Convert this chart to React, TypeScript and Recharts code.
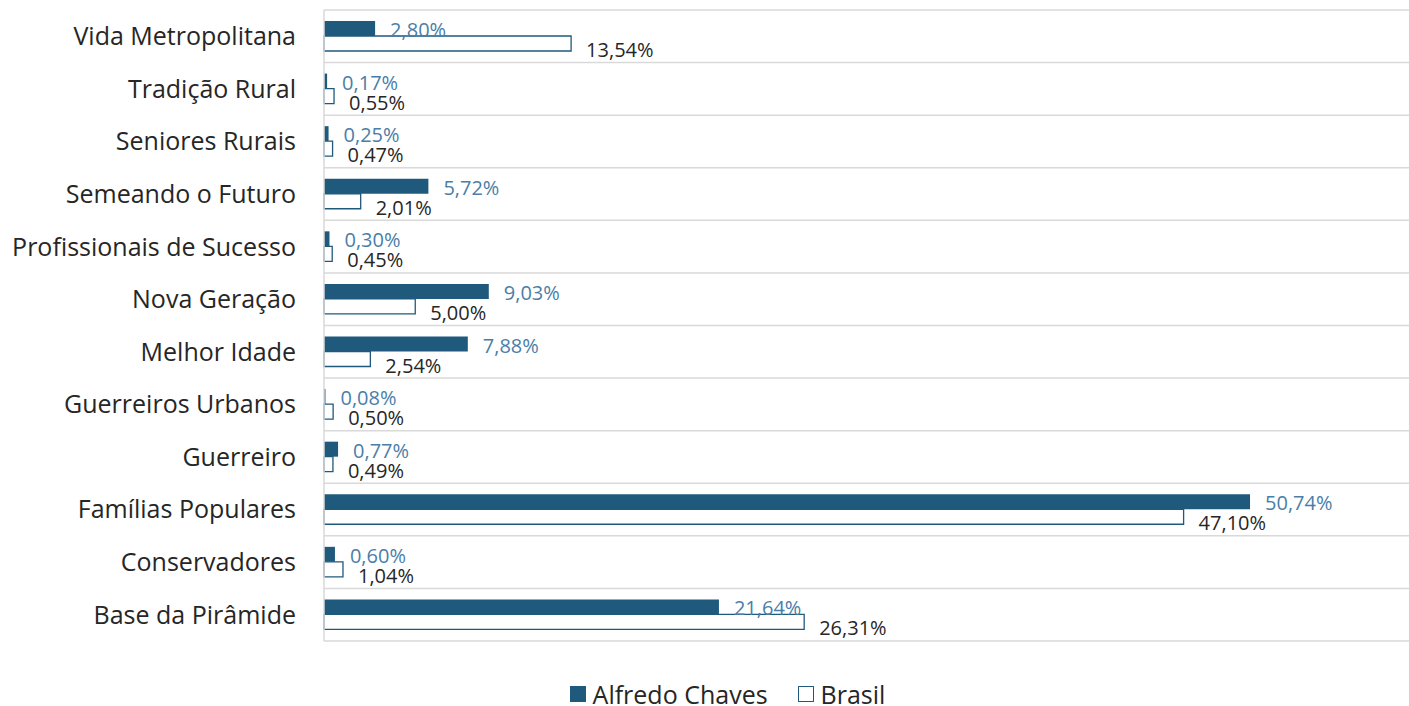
import React from "react";
import { BarChart, Bar, XAxis, YAxis, CartesianGrid, Legend, LabelList } from "recharts";

const categories = [
  "Vida Metropolitana",
  "Tradição Rural",
  "Seniores Rurais",
  "Semeando o Futuro",
  "Profissionais de Sucesso",
  "Nova Geração",
  "Melhor Idade",
  "Guerreiros Urbanos",
  "Guerreiro",
  "Famílias Populares",
  "Conservadores",
  "Base da Pirâmide",
];
const alfredoChaves = [2.8, 0.17, 0.25, 5.72, 0.3, 9.03, 7.88, 0.08, 0.77, 50.74, 0.6, 21.64];
const brasil = [13.54, 0.55, 0.47, 2.01, 0.45, 5.0, 2.54, 0.5, 0.49, 47.1, 1.04, 26.31];
const seriesNames = ["Alfredo Chaves", "Brasil"];

const data = categories.map((c, i) => ({ name: c, a: alfredoChaves[i], b: brasil[i] }));

const DARK = "#1f5a7d";
const LABEL_BLUE = "#4a7ea8";
const TEXT = "#262626";
const FONT = "'Open Sans', 'Noto Sans', sans-serif";

const fmt = (v: number) => v.toFixed(2).replace(".", ",") + "%";

const makeLabel = (color: string, dyOff: number) => (props: any) => {
  const { x, y, width, height, value } = props;
  return (
    <text
      x={x + width + 15}
      y={y + height / 2 + dyOff}
      fill={color}
      fontSize={20}
      fontFamily={FONT}
      dominantBaseline="central"
    >
      {fmt(value)}
    </text>
  );
};

const bandLines = ({ offset }: any) => {
  const n = categories.length;
  const out: number[] = [];
  for (let i = 0; i <= n; i++) out.push(offset.top + (i * offset.height) / n);
  return out;
};

const LegendContent = () => (
  <div
    style={{
      width: 1455,
      height: 30,
      display: "flex",
      justifyContent: "center",
      alignItems: "center",
      fontFamily: FONT,
      fontSize: 25,
      lineHeight: "28px",
      color: TEXT,
      whiteSpace: "nowrap",
    }}
  >
    <span style={{ display: "inline-block", width: 16, height: 16, background: DARK, marginRight: 7 }} />
    <span style={{ marginRight: 30 }}>{seriesNames[0]}</span>
    <span
      style={{
        display: "inline-block",
        width: 14,
        height: 14,
        background: "#fff",
        border: `1px solid ${DARK}`,
        marginRight: 7,
      }}
    />
    <span>{seriesNames[1]}</span>
  </div>
);

export default function App() {
  return (
    <div style={{ position: "absolute", left: 0, top: 0, background: "#fff" }}>
      <BarChart
        width={1409}
        height={706}
        data={data}
        layout="vertical"
        margin={{ top: 10, right: 0, bottom: 35, left: 0 }}
        barGap={0}
      >
        <CartesianGrid
          vertical={false}
          horizontal
          stroke="#d9d9d9"
          strokeWidth={1.5}
          horizontalCoordinatesGenerator={bandLines}
        />
        <XAxis type="number" domain={[0, 59.45]} hide />
        <YAxis
          type="category"
          dataKey="name"
          width={324}
          tickLine={false}
          tickSize={6}
          tickMargin={22}
          axisLine={{ stroke: "#d9d9d9", strokeWidth: 1.5 }}
          tick={{ fill: TEXT, fontSize: 25, fontFamily: FONT }}
          interval={0}
        />
        <Legend
          content={<LegendContent />}
          wrapperStyle={{ top: 679, left: 0, width: 1455, height: 30 }}
        />
        <Bar dataKey="a" name={seriesNames[0]} fill={DARK} barSize={15} isAnimationActive={false}>
          <LabelList dataKey="a" content={makeLabel(LABEL_BLUE, 1)} />
        </Bar>
        <Bar
          dataKey="b"
          name={seriesNames[1]}
          fill="#ffffff"
          stroke={DARK}
          strokeWidth={1.3}
          barSize={15}
          isAnimationActive={false}
        >
          <LabelList dataKey="b" content={makeLabel(TEXT, 6)} />
        </Bar>
      </BarChart>
    </div>
  );
}
